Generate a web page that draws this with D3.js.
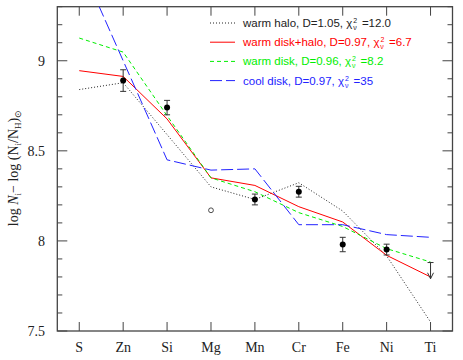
<!DOCTYPE html>
<html>
<head>
<meta charset="utf-8">
<script src="https://cdn.jsdelivr.net/npm/d3@7"></script>
<style>
body { margin: 0; background: #fff; }
svg { display: block; }
</style>
</head>
<body>
<div id="chart"></div>
<script>
var width = 463,
    height = 360,
    margin = {top: 6.7, right: 10.5, bottom: 29, left: 57.3};

// elements along the x axis
var elements = ["S", "Zn", "Si", "Mg", "Mn", "Cr", "Fe", "Ni", "Ti"];

// observed abundances (null = none), error, and kind
var obsValues = [null, 8.89, 8.74, 8.17, 8.23, 8.273, 7.98, 7.952, 7.88];
var obsErrors = [null, 0.06, 0.04, 0, 0.03, 0.03, 0.04, 0.03, 0];
var obsKind = [null, "det", "det", "open", "det", "det", "det", "det", "limit"];
var limitDrop = 0.09;

// model curves
var warmHalo = [8.84, 8.878, 8.59, 8.30, 8.23, 8.323, 8.166, 7.917, 7.55];
var warmDiskHalo = [8.945, 8.913, 8.677, 8.35, 8.308, 8.19, 8.105, 7.92, 7.80];
var warmDisk = [9.126, 9.048, 8.695, 8.35, 8.273, 8.157, 8.08, 7.957, 7.883];
var coolDisk = [9.55, 9.0, 8.45, 8.393, 8.40, 8.09, 8.09, 8.035, 8.02];

var models = [
    {name: "warm halo, D=1.05,", chi: " =12.0", values: warmHalo, color: "#222", dash: "1,2", width: 1},
    {name: "warm disk+halo, D=0.97,", chi: " =6.7", values: warmDiskHalo, color: "#ff0000", dash: null, width: 1},
    {name: "warm disk, D=0.96,", chi: " =8.2", values: warmDisk, color: "#00ee00", dash: "4,3", width: 1},
    {name: "cool disk, D=0.97,", chi: " =35", values: coolDisk, color: "#2222ff", dash: "12,4", width: 1}
];

var yTicks = [7.5, 8, 8.5, 9];

var x = d3.scaleLinear().domain([-0.5, 8.5]).range([margin.left, width - margin.right]);
var y = d3.scaleLinear().domain([7.5, 9.3]).range([height - margin.bottom, margin.top]);

var svg = d3.select("#chart").append("svg")
    .attr("width", width).attr("height", height);

svg.append("clipPath").attr("id", "plotclip")
    .append("rect")
    .attr("x", margin.left).attr("y", margin.top)
    .attr("width", width - margin.left - margin.right)
    .attr("height", height - margin.top - margin.bottom);

var axisColor = "#444";

// minor ticks every 0.1, major at labelled values
var minor = d3.range(7.5, 9.31, 0.1).map(function(v) { return Math.round(v * 10) / 10; });
var isMajor = function(v) { return yTicks.indexOf(v) >= 0; };

var ticks = svg.append("g").attr("stroke", axisColor).attr("stroke-width", 1);
minor.forEach(function(v) {
    var len = isMajor(v) ? 10 : 5;
    ticks.append("line").attr("x1", x.range()[0]).attr("x2", x.range()[0] + len)
        .attr("y1", y(v)).attr("y2", y(v));
    ticks.append("line").attr("x1", x.range()[1]).attr("x2", x.range()[1] - len)
        .attr("y1", y(v)).attr("y2", y(v));
});
elements.forEach(function(e, i) {
    ticks.append("line").attr("x1", x(i)).attr("x2", x(i))
        .attr("y1", y.range()[0]).attr("y2", y.range()[0] - 9);
    ticks.append("line").attr("x1", x(i)).attr("x2", x(i))
        .attr("y1", y.range()[1]).attr("y2", y.range()[1] + 9);
});

// frame
svg.append("rect")
    .attr("x", x.range()[0]).attr("y", y.range()[1])
    .attr("width", x.range()[1] - x.range()[0])
    .attr("height", y.range()[0] - y.range()[1])
    .attr("fill", "none").attr("stroke", axisColor).attr("stroke-width", 1.3);

// tick labels
svg.selectAll("text.xl").data(elements).enter().append("text")
    .attr("class", "xl")
    .attr("x", function(d, i) { return x(i); })
    .attr("y", height - 8)
    .attr("text-anchor", "middle")
    .attr("font-family", "Liberation Serif, Times New Roman, serif")
    .attr("font-size", 14)
    .attr("fill", "#222")
    .text(function(d) { return d; });

svg.selectAll("text.yl").data(yTicks).enter().append("text")
    .attr("class", "yl")
    .attr("x", 45)
    .attr("y", function(d) { return y(d) + 5; })
    .attr("text-anchor", "end")
    .attr("font-family", "Liberation Serif, Times New Roman, serif")
    .attr("font-size", 14)
    .attr("fill", "#222")
    .text(function(d) { return d; });

// y axis title
var yt = svg.append("text")
    .attr("transform", "translate(18," + 168 + ") rotate(-90)")
    .attr("text-anchor", "middle")
    .attr("font-family", "Liberation Serif, Times New Roman, serif")
    .attr("font-size", 14)
    .attr("fill", "#222");
yt.append("tspan").text("log ");
yt.append("tspan").attr("font-style", "italic").text("N");
yt.append("tspan").attr("font-size", 9).attr("dy", 3).text("i");
yt.append("tspan").attr("dy", -3).text("\u2212 log (N");
yt.append("tspan").attr("font-size", 9).attr("dy", 3).text("i");
yt.append("tspan").attr("dy", -3).text("/N");
yt.append("tspan").attr("font-size", 9).attr("dy", 3).text("H");
yt.append("tspan").attr("dy", -3).text(")");
yt.append("tspan").attr("font-size", 9).attr("dy", 3).text("\u2299");

// model lines
var line = d3.line()
    .x(function(d, i) { return x(i); })
    .y(function(d) { return y(d); });

var plot = svg.append("g").attr("clip-path", "url(#plotclip)");
models.forEach(function(m) {
    plot.append("path")
        .attr("d", line(m.values))
        .attr("fill", "none")
        .attr("stroke", m.color)
        .attr("stroke-width", m.width)
        .attr("stroke-dasharray", m.dash);
});

// observations
var errColor = "#333";
obsValues.forEach(function(v, i) {
    if (v === null) return;
    var cx = x(i);
    if (obsKind[i] === "det") {
        var e = obsErrors[i];
        svg.append("line").attr("x1", cx).attr("x2", cx)
            .attr("y1", y(v + e)).attr("y2", y(v - e))
            .attr("stroke", errColor).attr("stroke-width", 1);
        [v + e, v - e].forEach(function(w) {
            svg.append("line").attr("x1", cx - 3).attr("x2", cx + 3)
                .attr("y1", y(w)).attr("y2", y(w))
                .attr("stroke", errColor).attr("stroke-width", 1);
        });
        svg.append("circle").attr("cx", cx).attr("cy", y(v)).attr("r", 3)
            .attr("fill", "#000");
    } else if (obsKind[i] === "open") {
        svg.append("circle").attr("cx", cx).attr("cy", y(v)).attr("r", 2.4)
            .attr("fill", "none").attr("stroke", "#222").attr("stroke-width", 0.8);
    } else if (obsKind[i] === "limit") {
        var tip = y(v - limitDrop);
        svg.append("line").attr("x1", cx - 3).attr("x2", cx + 3)
            .attr("y1", y(v)).attr("y2", y(v))
            .attr("stroke", errColor).attr("stroke-width", 1);
        svg.append("line").attr("x1", cx).attr("x2", cx)
            .attr("y1", y(v)).attr("y2", tip)
            .attr("stroke", errColor).attr("stroke-width", 1);
        svg.append("path")
            .attr("d", "M" + (cx - 3) + "," + (tip - 6) + "L" + cx + "," + tip + "L" + (cx + 3) + "," + (tip - 6))
            .attr("fill", "none").attr("stroke", errColor).attr("stroke-width", 1);
    }
});

// legend
var legendX = 210, legendY = 23, legendStep = 19.2;
models.forEach(function(m, k) {
    var ly = legendY + k * legendStep;
    svg.append("line")
        .attr("x1", legendX).attr("x2", legendX + 25)
        .attr("y1", ly).attr("y2", ly)
        .attr("stroke", m.color).attr("stroke-width", 1)
        .attr("stroke-dasharray", m.dash);
    var t = svg.append("text")
        .attr("x", legendX + 33).attr("y", ly + 4)
        .attr("font-family", "Liberation Sans, Arial, sans-serif")
        .attr("font-size", 11.5)
        .attr("fill", m.color);
    t.append("tspan").text(m.name + " \u03c7");
    t.append("tspan").attr("font-size", 7).attr("dy", -4).attr("dx", 1).text("2");
    t.append("tspan").attr("font-size", 7).attr("dy", 7).attr("dx", -4).text("\u03bd");
    t.append("tspan").attr("dy", -3).attr("dx", 2).text(m.chi);
});
</script>
</body>
</html>
